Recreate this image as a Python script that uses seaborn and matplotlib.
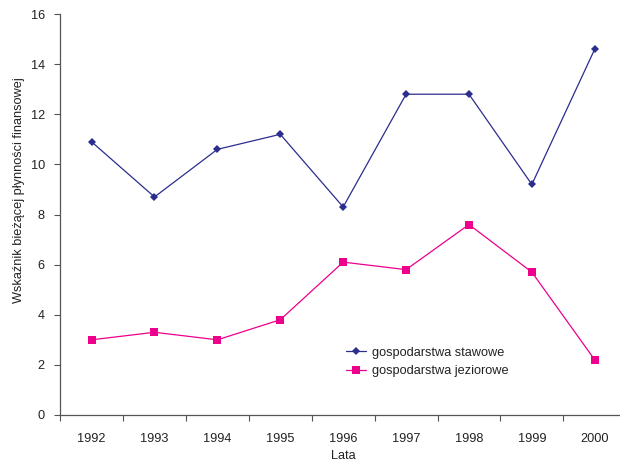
import matplotlib
matplotlib.use("Agg")
import matplotlib.pyplot as plt
import seaborn as sns
import pandas as pd
import numpy as np

years = ["1992", "1993", "1994", "1995", "1996", "1997", "1998", "1999", "2000"]
stawowe = [10.9, 8.7, 10.6, 11.2, 8.3, 12.8, 12.8, 9.2, 14.6]
jeziorowe = [3.0, 3.3, 3.0, 3.8, 6.1, 5.8, 7.6, 5.7, 2.2]
series_names = ["gospodarstwa stawowe", "gospodarstwa jeziorowe"]
y_ticks = [0, 2, 4, 6, 8, 10, 12, 14, 16]

sns.set_theme(style="white")
plt.rcParams["font.family"] = ["Liberation Sans", "DejaVu Sans"]

pos = np.arange(len(years))
df = pd.DataFrame({
    "pos": np.concatenate([pos, pos]),
    "value": stawowe + jeziorowe,
    "series": [series_names[0]] * len(years) + [series_names[1]] * len(years),
})

fig = plt.figure(figsize=(6.2, 4.61), dpi=100)
ax = fig.add_axes([0.097, 0.0998, 0.913, 0.8698])

palette = {series_names[0]: "#2b2d8f", series_names[1]: "#ec008c"}
markers = {series_names[0]: "D", series_names[1]: "s"}
sizes = {series_names[0]: 4, series_names[1]: 5.5}

for name in series_names:
    sub = df[df["series"] == name]
    sns.lineplot(data=sub, x="pos", y="value", ax=ax, color=palette[name],
                 marker=markers[name], markersize=sizes[name], linewidth=0.9,
                 markeredgewidth=0, label=name)

fs = 9.2
ax.set_xlim(-0.5, len(years) - 0.5)
ax.set_ylim(0, 16)
ax.set_yticks(y_ticks)
ax.set_yticklabels([str(t) for t in y_ticks])
ax.set_xticks(pos)
ax.set_xticklabels(years)
ax.set_xticks(np.arange(len(years) + 1) - 0.5, minor=True)
ax.tick_params(axis="x", which="major", length=0, pad=13, labelsize=fs, colors="#222222")
ax.tick_params(axis="x", which="minor", length=4, width=0.8, color="#555555", direction="out", bottom=True)
ax.tick_params(axis="y", which="major", length=4, width=0.8, color="#555555", direction="out", left=True,
               labelsize=fs, labelcolor="#222222", pad=7)

for side in ["top", "right"]:
    ax.spines[side].set_visible(False)
for side in ["left", "bottom"]:
    ax.spines[side].set_color("#555555")
    ax.spines[side].set_linewidth(0.9)

ax.set_xlabel("Lata", fontsize=fs, color="#222222", labelpad=3.5)
ax.set_ylabel("Wskaźnik bieżącej płynności finansowej", fontsize=fs, color="#222222")
ax.yaxis.set_label_coords(-0.062, 0.561)

leg = ax.legend(loc="upper left", bbox_to_anchor=(0.505, 0.17), frameon=False, fontsize=fs,
                handlelength=1.6, handletextpad=0.4, labelspacing=0.5, borderaxespad=0,
                borderpad=0)
for t in leg.get_texts():
    t.set_color("#222222")

fig.savefig("out.png", dpi=100)
